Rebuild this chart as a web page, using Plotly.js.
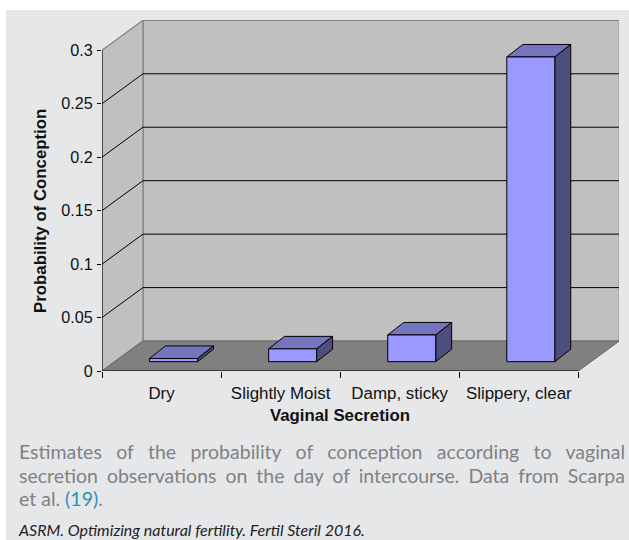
<!DOCTYPE html>
<html><head><meta charset="utf-8">
<script src="https://cdn.plot.ly/plotly-3.0.1.min.js"></script>
<style>
html,body{margin:0;padding:0;background:#fff;width:629px;height:540px;overflow:hidden}
#panel{position:absolute;left:6px;top:10px;width:623px;height:530px;background:#e6e7e9}
#chart{position:absolute;left:0;top:0;width:629px;height:540px}
#cap{position:absolute;left:19px;top:440px;width:606px;font:19.5px/23.5px "Lato",sans-serif;color:#7f8285}
#cap div.j{text-align:justify;text-align-last:justify;white-space:nowrap}
#cap a{color:#2b8fb8;text-decoration:none}
#src{position:absolute;left:19px;top:522px;font:italic 16px/16px "Lato",sans-serif;color:#222;white-space:nowrap}
</style></head><body>
<div id="panel"></div>
<div id="chart"></div>
<div id="cap"><div class="j">Estimates of the probability of conception according to vaginal</div><div class="j">secretion observations on the day of intercourse. Data from Scarpa</div><div>et al. <a>(19)</a>.</div></div>
<div id="src">ASRM. Optimizing natural fertility. Fertil Steril 2016.</div>
<script>
const categories = ["Dry", "Slightly Moist", "Damp, sticky", "Slippery, clear"];
const probabilities = [0.003, 0.012, 0.025, 0.285];
const yTicks = [0, 0.05, 0.1, 0.15, 0.2, 0.25, 0.3];
const yTickLabels = ["0", "0.05", "0.1", "0.15", "0.2", "0.25", "0.3"];
const xTitle = "Vaginal Secretion";
const yTitle = "Probability of Conception";

// Projection of the fake depth, in axis units
const N = categories.length, YMAX = 0.3;
const wallDX = 0.344, wallDY = 0.0280;       // full depth of floor
const barDX = 0.134, barDY = 0.0117;         // depth of a bar
const barLift = 0.0087, barOff = -0.1007, barW = 0.403; // bar placement
const FONT = '"Liberation Sans", Arial, sans-serif';

const traces = [];
function poly(xs, ys, fill, line, w) {
  traces.push({type:'scatter', mode:'lines', x:xs, y:ys, fill:'toself', fillcolor:fill,
    line:{color:line, width:w}, hoverinfo:'skip', showlegend:false, cliponaxis:false, xaxis:'x', yaxis:'y'});
}
function seg(xs, ys, color, w) {
  traces.push({type:'scatter', mode:'lines', x:xs, y:ys, line:{color:color, width:w},
    hoverinfo:'skip', showlegend:false, cliponaxis:false, xaxis:'x', yaxis:'y'});
}
// walls and floor
poly([wallDX, N+wallDX, N+wallDX, wallDX, wallDX], [wallDY, wallDY, YMAX+wallDY, YMAX+wallDY, wallDY], '#c0c0c0', '#808080', 1.2);
poly([0, wallDX, wallDX, 0, 0], [0, wallDY, YMAX+wallDY, YMAX, 0], '#c0c0c0', '#808080', 1.2);
poly([0, N, N+wallDX, wallDX, 0], [0, 0, wallDY, wallDY, 0], '#808080', '#666666', 1);
// grid lines
yTicks.filter(t => t > 0 && t < YMAX).forEach(t => {
  seg([0, wallDX, N+wallDX], [t, t+wallDY, t+wallDY], '#000', 1);
});
// front axis lines
seg([0, 0], [0, YMAX], '#000', 1);
seg([0, N], [0, 0], '#000', 1.2);
// bar top and side faces
probabilities.forEach((v, i) => {
  const x0 = i + 0.5 + barOff, x1 = x0 + barW, b = barLift, t = barLift + v;
  poly([x0, x1, x1+barDX, x0+barDX, x0], [t, t, t+barDY, t+barDY, t], '#7575bf', '#000', 1);
  poly([x1, x1+barDX, x1+barDX, x1, x1], [b, b+barDY, t+barDY, t, b], '#4d4d80', '#000', 1);
});
// front faces
traces.push({type:'bar', x:categories, y:probabilities, base:probabilities.map(() => barLift),
  offset:barOff, width:barW, xaxis:'x2', yaxis:'y',
  marker:{color:'#9999ff', line:{color:'#000', width:1}}, hoverinfo:'skip', showlegend:false, cliponaxis:false});

const L = 101.7, R = 619, T = 20, B = 371.5;
const xUnit = 119.15, yUnit = 1070.7;
const xSpan = (R - L) / xUnit;
const layout = {
  width:629, height:540, margin:{l:L, r:629-R, t:T, b:540-B, pad:0},
  paper_bgcolor:'rgba(0,0,0,0)', plot_bgcolor:'rgba(0,0,0,0)', showlegend:false, hovermode:false,
  font:{family:FONT, size:16.5, color:'#111'},
  xaxis:{type:'linear', range:[0, xSpan], tickmode:'array', tickvals:categories.map((c,i)=>i).concat([N]),
    ticktext:categories.map(()=> '').concat(['']), ticks:'outside', ticklen:6, tickcolor:'#000', tickwidth:1,
    showgrid:false, zeroline:false, showline:false},
  xaxis2:{type:'category', overlaying:'x', anchor:'y', side:'bottom', range:[-0.5, xSpan-0.5], ticks:'', ticklen:0,
    ticklabelstandoff:10, showgrid:false, zeroline:false, showline:false, tickfont:{family:FONT, size:16.9, color:'#111'}},
  yaxis:{range:[0, (B-T)/yUnit], tickmode:'array', tickvals:yTicks, ticktext:yTickLabels, ticks:'outside', ticklen:4,
    ticklabelstandoff:1, tickcolor:'#000', tickwidth:1, showgrid:false, zeroline:false, showline:false,
    tickfont:{family:FONT, size:16.2, color:'#111'}},
  annotations:[
    {text:xTitle, xref:'x', x:N/2, yref:'paper', y:0, yshift:-44.5, yanchor:'middle', showarrow:false,
     font:{family:FONT, size:16.8, color:'#111', weight:'bold'}},
    {text:yTitle, xref:'paper', x:0, xshift:-61.7, xanchor:'center', yref:'y', y:YMAX/2, textangle:-90, showarrow:false,
     font:{family:FONT, size:16.8, color:'#111', weight:'bold'}}
  ]
};
Plotly.newPlot('chart', traces, layout, {displayModeBar:false, staticPlot:true});
</script></body></html>
